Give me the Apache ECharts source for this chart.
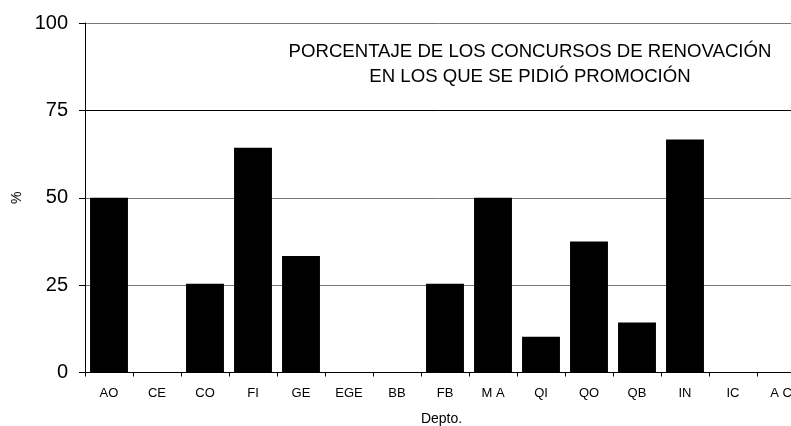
<!DOCTYPE html>
<html><head><meta charset="utf-8">
<script src="https://cdn.jsdelivr.net/npm/echarts@6/dist/echarts.min.js"></script>
<style>html,body{margin:0;padding:0;background:#fff}#c{width:791px;height:426px}</style>
</head><body><div id="c"></div>
<script>
const categories = ['AO','CE','CO','FI','GE','EGE','BB','FB','M A','QI','QO','QB','IN','IC','A C'];
const values = [50, 0, 25.4, 64.3, 33.3, 0, 0, 25.4, 50, 10.2, 37.5, 14.3, 66.7, 0, 0];
const yTicks = [0, 25, 50, 75, 100];
const titleLines = ['PORCENTAJE DE LOS CONCURSOS DE RENOVACIÓN', 'EN LOS QUE SE PIDIÓ PROMOCIÓN'];
const font = 'Liberation Sans, Arial, sans-serif';

const chart = echarts.init(document.getElementById('c'), null, {renderer:'canvas'});
chart.setOption({
  animation: false,
  backgroundColor: '#fff',
  grid: {left: 85, top: 23, width: 720, height: 349.5, containLabel: false, outerBoundsMode: 'none'},
  graphic: [{
    type: 'text', x: 530, y: 39,
    style: {text: titleLines.join('\n'), fill: '#000', font: '18.6px ' + font, textAlign: 'center', lineHeight: 25}
  }],
  xAxis: {
    type: 'category', data: categories,
    name: 'Depto.', nameLocation: 'middle', nameGap: 40,
    nameTextStyle: {fontFamily: font, fontSize: 14, color: '#000', padding: [0, 0, 0, -7]},
    axisLine: {lineStyle: {color: '#000', width: 1}},
    axisTick: {show: true, length: 4, lineStyle: {color: '#000'}},
    axisLabel: {fontFamily: font, fontSize: 13, color: '#000', margin: 14, interval: 0}
  },
  yAxis: {
    type: 'value', min: 0, max: 100, interval: 25,
    name: '%', nameLocation: 'middle', nameGap: 60, nameRotate: 90,
    nameTextStyle: {fontFamily: font, fontSize: 14, color: '#000'},
    axisLine: {show: true, lineStyle: {color: '#000', width: 1}},
    axisTick: {show: true, length: 6, lineStyle: {color: '#000'}},
    axisLabel: {fontFamily: font, fontSize: 20, color: '#000', margin: 17,
      formatter: v => yTicks.includes(v) ? String(v) : ''},
    splitLine: {show: true, lineStyle: {color: '#777', width: 1}}
  },
  series: [{
    type: 'bar', data: values, barCategoryGap: '21%',
    itemStyle: {color: '#000'},
    markLine: {silent: true, symbol: 'none', label: {show: false},
      lineStyle: {color: '#000', width: 1, type: 'solid'}, data: [{yAxis: 75}]}
  }]
});
</script></body></html>
